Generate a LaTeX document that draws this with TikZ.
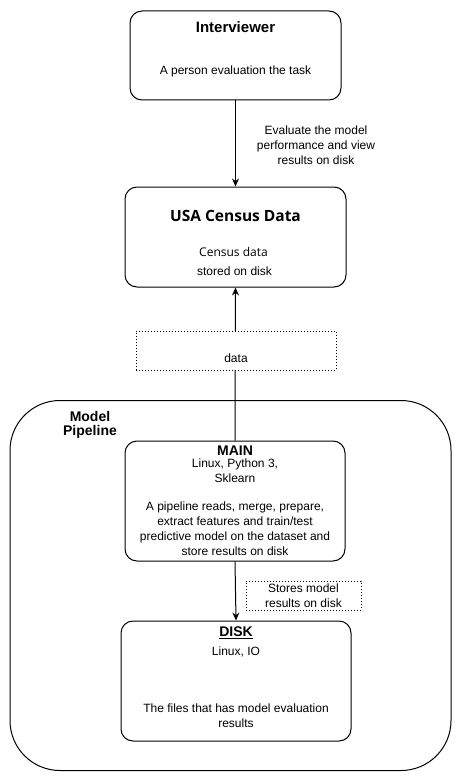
\documentclass[tikz,border=0pt]{standalone}
\usepackage{fontspec}
\setmainfont{Liberation Sans}
\newfontfamily\censusfont{Open Sans}
\usetikzlibrary{arrows.meta}

\begin{document}
\begin{tikzpicture}[x=1pt, y=-1pt, line width=1pt,
  box/.style={draw, rounded corners=12pt, inner sep=0pt},
  note/.style={draw, dash pattern=on 0.8pt off 2.2pt, line width=0.8pt, fill=white, inner sep=0pt},
  title/.style={font=\fontsize{14}{16}\selectfont\bfseries},
  body/.style={font=\fontsize{12}{15}\selectfont, align=center},
  link/.style={-{Stealth[length=8pt,width=7pt]}}]

\useasboundingbox (0,0) rectangle (461,781);

%% boxes
\node[box, minimum width=211pt, minimum height=89pt] (int) at (235.5,55.5) {};
\node[box, minimum width=221pt, minimum height=100pt] (census) at (235.5,237) {};
\node[draw, rounded corners=50pt, minimum width=441pt, minimum height=370pt] (pipe) at (230.5,585.5) {};
\node[box, minimum width=220pt, minimum height=120pt, fill=white] (main) at (235,501) {};
\node[box, minimum width=230pt, minimum height=120pt] (disk) at (236,681) {};


%% box texts
\node[title, font=\fontsize{15}{17}\selectfont\bfseries] (inttitle) at (235.5,27) {Interviewer};
\node[body] (inttext) at (235.5,71) {A person evaluation the task};

\node[font=\fontsize{15.5}{18}\selectfont\censusfont\bfseries] (censustitle) at (235.5,216) {USA Census Data};
\node[font=\fontsize{12}{14}\selectfont\censusfont] (censustext) at (233.5,252) {Census data};
\node[body] (censusdisk) at (234.5,271) {stored on disk};

\node[title] (pipetitle) at (90,425.5) {\begin{tabular}{@{}c@{}}Model\\[-1.5pt]Pipeline\end{tabular}};

\node[title] (maintitle) at (235,451) {MAIN};
\node[body] (maintech) at (235,470.5) {Linux, Python 3,\\Sklearn};
\node[body] (maintext) at (235,528.5) {A pipeline reads, merge, prepare,\\extract features and train/test\\predictive model on the dataset and\\store results on disk};

\node[title] (disktitle) at (236,633) {\underline{DISK}};
\node[body] (disktech) at (236,652) {Linux, IO};
\node[body] (disktext) at (236,715.5) {The files that has model evaluation\\results};


%%% edges
\draw[link] (int.south) -- (census.north);
\draw[link] (main.north) -- (census.south);
\draw[link] (main.south) -- (disk.north);


%% edge labels
\node[body] (evallbl) at (316,145.5) {Evaluate the model\\performance and view\\results on disk};
\node[note, minimum width=200pt, minimum height=39pt] (datalbl) at (236,350.5) {};
\node[body] (datatext) at (236,358) {data};
\node[note, minimum width=115pt, minimum height=29pt, body] (storelbl) at (303.5,595.5) {Stores model\\results on disk};
    \end{tikzpicture}
\end{document}
